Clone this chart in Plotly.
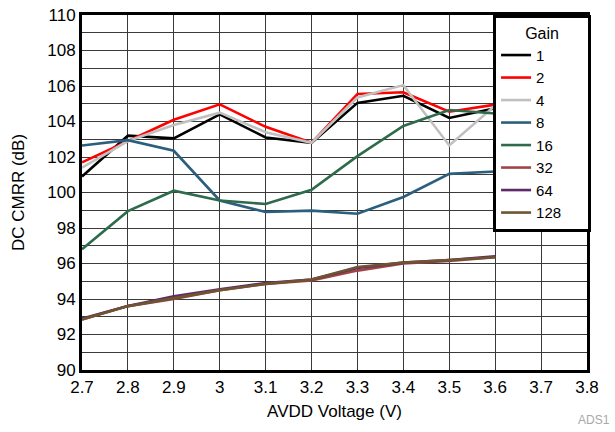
import plotly.graph_objects as go

voltage = [2.7, 2.8, 2.9, 3.0, 3.1, 3.2, 3.3, 3.4, 3.5, 3.6]

gain_1 = [100.9, 103.2, 103.05, 104.4, 103.1, 102.8, 105.05, 105.45, 104.2, 104.75]
gain_2 = [101.7, 102.9, 104.1, 104.97, 103.7, 102.8, 105.55, 105.65, 104.55, 104.95]
gain_4 = [101.4, 102.9, 103.8, 104.5, 103.4, 102.8, 105.35, 106.05, 102.65, 104.9]
gain_8 = [102.65, 102.95, 102.35, 99.55, 98.9, 98.98, 98.8, 99.75, 101.05, 101.18]
gain_16 = [96.8, 98.95, 100.1, 99.55, 99.35, 100.15, 102.05, 103.75, 104.65, 104.45]
gain_32 = [92.85, 93.6, 94.0, 94.5, 94.85, 95.05, 95.6, 96.0, 96.15, 96.35]
gain_64 = [92.9, 93.6, 94.15, 94.55, 94.9, 95.1, 95.75, 96.05, 96.2, 96.4]
gain_128 = [92.85, 93.6, 94.05, 94.5, 94.85, 95.1, 95.8, 96.05, 96.2, 96.35]

series = [
    ("1", gain_1, "#000000"),
    ("2", gain_2, "#FF0000"),
    ("4", gain_4, "#C0C0C0"),
    ("8", gain_8, "#2B5F7E"),
    ("16", gain_16, "#2E6B4B"),
    ("32", gain_32, "#A04545"),
    ("64", gain_64, "#5E2A6A"),
    ("128", gain_128, "#6E5430"),
]

x_ticks = [2.7, 2.8, 2.9, 3.0, 3.1, 3.2, 3.3, 3.4, 3.5, 3.6, 3.7, 3.8]
x_tick_labels = ["2.7", "2.8", "2.9", "3", "3.1", "3.2", "3.3", "3.4", "3.5", "3.6", "3.7", "3.8"]
y_ticks = list(range(90, 112, 2))

font_family = "Liberation Sans, Arial, Helvetica, sans-serif"
grid_color = "#3a3a3a"
pad = "\u00a0" * 6

fig = go.Figure()
for name, vals, color in series:
    fig.add_trace(go.Scatter(
        x=voltage, y=vals, name=name, mode="lines",
        line=dict(color=color, width=2.6),
    ))

fig.update_layout(
    width=615, height=432,
    margin=dict(l=82, r=28, t=15, b=62),
    paper_bgcolor="white", plot_bgcolor="white",
    font=dict(family=font_family, size=16, color="black"),
    showlegend=True,
    legend=dict(
        x=0.814, xanchor="left", y=1, yanchor="top",
        bgcolor="white", bordercolor="black", borderwidth=3,
        font=dict(size=15),
        title=dict(text=pad + "Gain" + pad, side="top center", font=dict(size=16)),
        tracegroupgap=0,
    ),
)

fig.update_xaxes(
    range=[2.7, 3.8], tickvals=x_ticks, ticktext=x_tick_labels,
    showgrid=True, gridcolor=grid_color, gridwidth=1,
    showline=True, linecolor="black", linewidth=3, mirror=True,
    ticks="", zeroline=False, automargin=False,
    tickfont=dict(size=17),
    title=dict(text="AVDD Voltage (V)", font=dict(size=17), standoff=9),
)
fig.update_yaxes(
    range=[90, 110], tickvals=y_ticks,
    showgrid=True, gridcolor=grid_color, gridwidth=1,
    minor=dict(dtick=1, showgrid=True, gridcolor=grid_color, gridwidth=1, ticks=""),
    showline=True, linecolor="black", linewidth=3, mirror=True,
    ticks="", zeroline=False, automargin=False,
    ticklabeloverflow="allow",
    tickfont=dict(size=17),
    title=dict(text="DC CMRR (dB)", font=dict(size=17), standoff=19),
)

fig.add_annotation(
    x=1.0, y=0.0, xref="paper", yref="paper", xanchor="right", yanchor="middle",
    xshift=25, yshift=-50,
    text="ADS1", showarrow=False,
    font=dict(size=12, color="#A8A8A8"),
)

fig.write_html(
    "out.html",
    config={"displayModeBar": False},
    post_script="document.body.style.margin='0';document.body.style.overflow='hidden';",
)
